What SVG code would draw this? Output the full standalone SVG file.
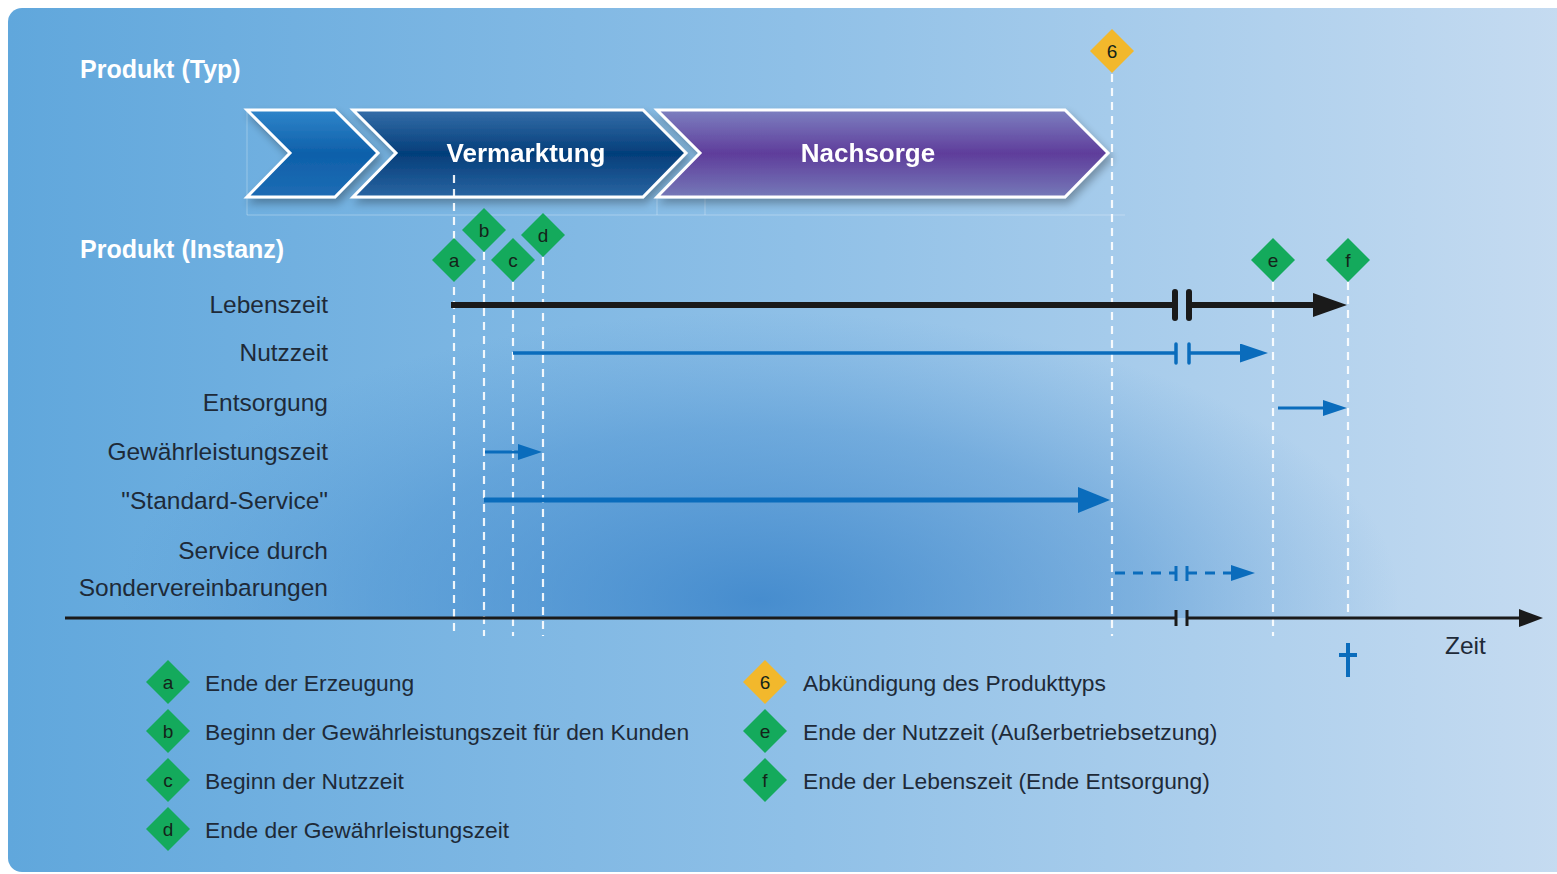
<svg xmlns="http://www.w3.org/2000/svg" width="1557" height="874" viewBox="0 0 1557 874">
<defs>
<style>
.hdr{font-family:"Liberation Sans",Arial,sans-serif;font-weight:bold;font-size:25px;fill:#ffffff}
.chev{font-family:"Liberation Sans",Arial,sans-serif;font-weight:bold;font-size:26px;fill:#ffffff;text-anchor:middle}
.row{font-family:"Liberation Sans",Arial,sans-serif;font-size:24.5px;fill:#1e2a38;text-anchor:end}
.leg{font-family:"Liberation Sans",Arial,sans-serif;font-size:22.8px;fill:#1e2a38}
.zeit{font-family:"Liberation Sans",Arial,sans-serif;font-size:24.5px;fill:#1e2a38}
.dl{font-family:"Liberation Sans",Arial,sans-serif;font-size:19px;fill:#14241a;text-anchor:middle}
.gd{fill:#14aa5c}
.yd{fill:#f2b82c}
.vl{stroke:#ffffff;stroke-width:2.2;stroke-dasharray:8 6;opacity:0.9;fill:none}
.cs{stroke:#ffffff;stroke-width:3;stroke-linejoin:miter}
.blk{stroke:#1a1a1a;fill:none}
.blu{stroke:#0a6cbc;fill:none}
.bar{stroke-linecap:round}
.faint{stroke:#ffffff;stroke-width:1;opacity:0.3;fill:none}
</style>
<linearGradient id="bg" x1="0" y1="0" x2="1" y2="0">
<stop offset="0" stop-color="#60a7dc"/>
<stop offset="0.5" stop-color="#8fc0e7"/>
<stop offset="1" stop-color="#c7dcf1"/>
</linearGradient>
<radialGradient id="blob" cx="760" cy="600" r="640" gradientUnits="userSpaceOnUse" gradientTransform="translate(760 600) scale(1 0.45) translate(-760 -600)">
<stop offset="0" stop-color="#2f7cc6" stop-opacity="0.75"/>
<stop offset="0.6" stop-color="#3a85cb" stop-opacity="0.38"/>
<stop offset="1" stop-color="#4a8fd0" stop-opacity="0"/>
</radialGradient>
<linearGradient id="g1" x1="0" y1="0" x2="0" y2="1">
<stop offset="0" stop-color="#3085ca"/>
<stop offset="0.5" stop-color="#0e60aa"/>
<stop offset="1" stop-color="#1d6cb4"/>
</linearGradient>
<linearGradient id="g2" x1="0" y1="0" x2="0" y2="1">
<stop offset="0" stop-color="#356ea9"/>
<stop offset="0.5" stop-color="#043e7a"/>
<stop offset="1" stop-color="#2a65a2"/>
</linearGradient>
<linearGradient id="g3" x1="0" y1="0" x2="0" y2="1">
<stop offset="0" stop-color="#7c80c0"/>
<stop offset="0.5" stop-color="#5f3d9b"/>
<stop offset="1" stop-color="#7579b8"/>
</linearGradient>
<filter id="sh" x="-10%" y="-20%" width="120%" height="150%">
<feGaussianBlur in="SourceAlpha" stdDeviation="4"/>
<feOffset dx="3" dy="5" result="b"/>
<feComponentTransfer><feFuncA type="linear" slope="0.3"/></feComponentTransfer>
<feMerge><feMergeNode/><feMergeNode in="SourceGraphic"/></feMerge>
</filter>
<marker id="mBlk" markerUnits="userSpaceOnUse" markerWidth="36" markerHeight="26" refX="17" refY="12" orient="auto"><path d="M0,0 L34,12 L0,24 z" fill="#1a1a1a"/></marker>
<marker id="mBlu" markerUnits="userSpaceOnUse" markerWidth="30" markerHeight="20" refX="14" refY="9.5" orient="auto"><path d="M0,0 L28,9.5 L0,19 z" fill="#0a6cbc"/></marker>
<marker id="mBluS" markerUnits="userSpaceOnUse" markerWidth="26" markerHeight="18" refX="12" refY="8" orient="auto"><path d="M0,0 L24,8 L0,16 z" fill="#0a6cbc"/></marker>
<marker id="mBluL" markerUnits="userSpaceOnUse" markerWidth="34" markerHeight="28" refX="16" refY="13" orient="auto"><path d="M0,0 L32,13 L0,26 z" fill="#0a6cbc"/></marker>
<marker id="mAx" markerUnits="userSpaceOnUse" markerWidth="26" markerHeight="20" refX="12" refY="9" orient="auto"><path d="M0,0 L24,9 L0,18 z" fill="#1a1a1a"/></marker>
</defs>

<rect x="0" y="0" width="1557" height="874" fill="#ffffff"/>
<g id="background">
<rect x="8" y="8" width="1580" height="864" rx="14" fill="url(#bg)"/>
<rect x="8" y="300" width="1549" height="318" fill="url(#blob)"/>
</g>

<g id="faint-grid">
<path class="faint" d="M247,110 V215 H1125 M705,112 V215 M657,197 V215"/>
</g>

<text class="hdr" x="80" y="78">Produkt (Typ)</text>
<text class="hdr" x="80" y="258">Produkt (Instanz)</text>

<g id="phase-start" filter="url(#sh)">
<polygon class="cs" points="247,110 335,110 378,153 335,197 247,197 290,153" fill="url(#g1)"/>
</g>
<g id="phase-vermarktung" filter="url(#sh)">
<polygon class="cs" points="353,110 643,110 686,153 643,197 353,197 396,153" fill="url(#g2)"/>
<text class="chev" x="526" y="162">Vermarktung</text>
</g>
<g id="phase-nachsorge" filter="url(#sh)">
<polygon class="cs" points="657,110 1065,110 1108,153 1065,197 657,197 700,153" fill="url(#g3)"/>
<text class="chev" x="868" y="162">Nachsorge</text>
</g>

<g id="guides">
<line class="vl" x1="454" y1="175" x2="454" y2="636"/>
<line class="vl" x1="484" y1="252" x2="484" y2="636"/>
<line class="vl" x1="513" y1="282" x2="513" y2="636"/>
<line class="vl" x1="543" y1="257" x2="543" y2="636"/>
<line class="vl" x1="1112" y1="74" x2="1112" y2="636"/>
<line class="vl" x1="1273" y1="282" x2="1273" y2="636"/>
<line class="vl" x1="1348" y1="282" x2="1348" y2="612"/>
</g>

<g id="row-labels">
<text class="row" x="328" y="313">Lebenszeit</text>
<text class="row" x="328" y="361">Nutzzeit</text>
<text class="row" x="328" y="411">Entsorgung</text>
<text class="row" x="328" y="460">Gewährleistungszeit</text>
<text class="row" x="328" y="509">"Standard-Service"</text>
<text class="row" x="328" y="559">Service durch</text>
<text class="row" x="328" y="596">Sondervereinbarungen</text>
</g>

<g id="connectors">
<line class="blk" x1="451" y1="305" x2="1175" y2="305" stroke-width="6"/>
<line class="blk bar" x1="1175" y1="292" x2="1175" y2="318" stroke-width="6"/>
<line class="blk bar" x1="1189" y1="292" x2="1189" y2="318" stroke-width="6"/>
<line class="blk" x1="1189" y1="305" x2="1330" y2="305" stroke-width="6" marker-end="url(#mBlk)"/>

<line class="blu" x1="513" y1="353" x2="1175" y2="353" stroke-width="3.5"/>
<line class="blu bar" x1="1176" y1="344" x2="1176" y2="363" stroke-width="3.5"/>
<line class="blu bar" x1="1189" y1="344" x2="1189" y2="363" stroke-width="3.5"/>
<line class="blu" x1="1189" y1="353" x2="1254" y2="353" stroke-width="3.5" marker-end="url(#mBlu)"/>

<line class="blu" x1="1278" y1="408" x2="1335" y2="408" stroke-width="3" marker-end="url(#mBluS)"/>

<line class="blu" x1="485" y1="452" x2="530" y2="452" stroke-width="3" marker-end="url(#mBluS)"/>

<line class="blu" x1="484" y1="500" x2="1094" y2="500" stroke-width="5" marker-end="url(#mBluL)"/>

<line class="blu" x1="1115" y1="573" x2="1175" y2="573" stroke-width="3" stroke-dasharray="10 8"/>
<line class="blu" x1="1176" y1="566" x2="1176" y2="581" stroke-width="3"/>
<line class="blu" x1="1187" y1="566" x2="1187" y2="581" stroke-width="3"/>
<line class="blu" x1="1187" y1="573" x2="1243" y2="573" stroke-width="3" stroke-dasharray="10 8" marker-end="url(#mBluS)"/>

<line class="blk" x1="65" y1="618" x2="1176" y2="618" stroke-width="3"/>
<line class="blk" x1="1176" y1="610" x2="1176" y2="626" stroke-width="3"/>
<line class="blk" x1="1187" y1="610" x2="1187" y2="626" stroke-width="3"/>
<line class="blk" x1="1187" y1="618" x2="1531" y2="618" stroke-width="3" marker-end="url(#mAx)"/>
</g>

<text class="zeit" x="1445" y="654">Zeit</text>
<g id="cross">
<path d="M1348,643 V677 M1339,655 H1357" stroke="#0a6cbc" stroke-width="4" fill="none"/>
</g>

<g id="m6"><polygon class="yd" points="1112,29 1134,51 1112,73 1090,51"/><text class="dl" x="1112" y="58">6</text></g>
<g id="ma"><polygon class="gd" points="454,238 476,260 454,282 432,260"/><text class="dl" x="454" y="267">a</text></g>
<g id="mb"><polygon class="gd" points="484,208 506,230 484,252 462,230"/><text class="dl" x="484" y="237">b</text></g>
<g id="mc"><polygon class="gd" points="513,238 535,260 513,282 491,260"/><text class="dl" x="513" y="267">c</text></g>
<g id="md"><polygon class="gd" points="543,213 565,235 543,257 521,235"/><text class="dl" x="543" y="242">d</text></g>
<g id="me"><polygon class="gd" points="1273,238 1295,260 1273,282 1251,260"/><text class="dl" x="1273" y="267">e</text></g>
<g id="mf"><polygon class="gd" points="1348,238 1370,260 1348,282 1326,260"/><text class="dl" x="1348" y="267">f</text></g>

<g id="legend-a"><polygon class="gd" points="168,660 190,682 168,704 146,682"/><text class="dl" x="168" y="689">a</text><text class="leg" x="205" y="691">Ende der Erzeugung</text></g>
<g id="legend-b"><polygon class="gd" points="168,709 190,731 168,753 146,731"/><text class="dl" x="168" y="738">b</text><text class="leg" x="205" y="740">Beginn der Gewährleistungszeit für den Kunden</text></g>
<g id="legend-c"><polygon class="gd" points="168,758 190,780 168,802 146,780"/><text class="dl" x="168" y="787">c</text><text class="leg" x="205" y="789">Beginn der Nutzzeit</text></g>
<g id="legend-d"><polygon class="gd" points="168,807 190,829 168,851 146,829"/><text class="dl" x="168" y="836">d</text><text class="leg" x="205" y="838">Ende der Gewährleistungszeit</text></g>
<g id="legend-6"><polygon class="yd" points="765,660 787,682 765,704 743,682"/><text class="dl" x="765" y="689">6</text><text class="leg" x="803" y="691">Abkündigung des Produkttyps</text></g>
<g id="legend-e"><polygon class="gd" points="765,709 787,731 765,753 743,731"/><text class="dl" x="765" y="738">e</text><text class="leg" x="803" y="740">Ende der Nutzzeit (Außerbetriebsetzung)</text></g>
<g id="legend-f"><polygon class="gd" points="765,758 787,780 765,802 743,780"/><text class="dl" x="765" y="787">f</text><text class="leg" x="803" y="789">Ende der Lebenszeit (Ende Entsorgung)</text></g>
</svg>
